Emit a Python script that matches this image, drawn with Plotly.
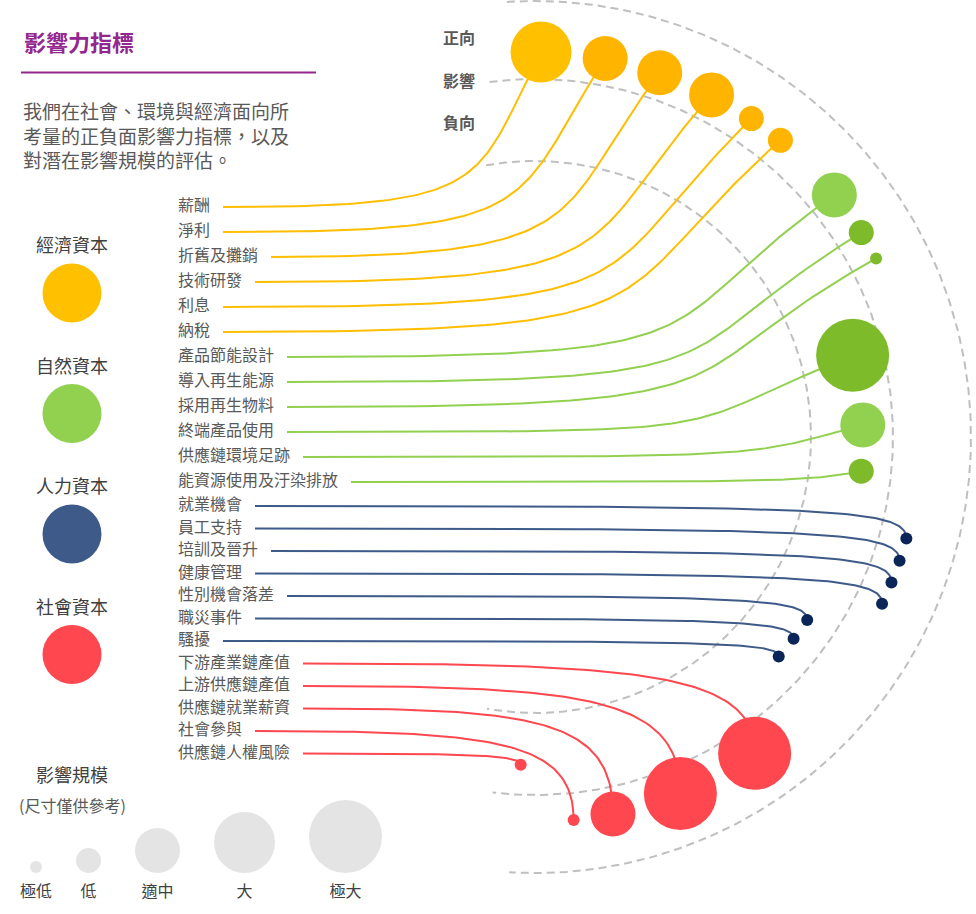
import numpy as np
import plotly.graph_objects as go

# ---------------- data ----------------
indicators = ["薪酬", "淨利", "折舊及攤銷", "技術研發", "利息", "納稅",
              "產品節能設計", "導入再生能源", "採用再生物料", "終端產品使用",
              "供應鏈環境足跡", "能資源使用及汙染排放",
              "就業機會", "員工支持", "培訓及晉升", "健康管理", "性別機會落差",
              "職災事件", "騷擾",
              "下游產業鏈產值", "上游供應鏈產值", "供應鏈就業薪資", "社會參與",
              "供應鏈人權風險"]
capital = ["經濟資本", "經濟資本", "經濟資本", "經濟資本", "經濟資本", "經濟資本",
           "自然資本", "自然資本", "自然資本", "自然資本", "自然資本", "自然資本",
           "人力資本", "人力資本", "人力資本", "人力資本", "人力資本", "人力資本", "人力資本",
           "社會資本", "社會資本", "社會資本", "社會資本", "社會資本"]
direction = ["正向", "正向", "正向", "正向", "正向", "正向",
             "正向", "正向", "正向", "負向", "負向", "負向",
             "正向", "正向", "正向", "正向", "負向", "負向", "負向",
             "正向", "正向", "正向", "正向", "負向"]
scale = ["大", "適中", "適中", "適中", "低", "低",
         "適中", "低", "極低", "極大", "適中", "低",
         "極低", "極低", "極低", "極低", "極低", "極低", "極低",
         "極大", "極大", "適中", "極低", "極低"]

capitals = ["經濟資本", "自然資本", "人力資本", "社會資本"]
scale_levels = ["極低", "低", "適中", "大", "極大"]

title = "影響力指標"
intro = ["我們在社會、環境與經濟面向所", "考量的正負面影響力指標，以及", "對潛在影響規模的評估。"]

# ---------------- style ----------------
W, H = 976, 914
FONT = "Noto Sans CJK TC"
TEXT = "#595959"
DARK = "#404040"
PURPLE = "#93278F"
cap_color = {"經濟資本": "#FFC000", "自然資本": "#92D050",
             "人力資本": "#3D5A89", "社會資本": "#FF474F"}
line_color = {"經濟資本": "#FFBE00", "自然資本": "#92D050",
              "人力資本": "#3D5A89", "社會資本": "#FF474F"}
dot_color = {"經濟資本": "#FFB400", "自然資本": "#7DBB2A",
             "人力資本": "#0B2559", "社會資本": "#FF474F"}
light_dots = {"薪酬": "#FFC000", "產品節能設計": "#92D050", "供應鏈環境足跡": "#92D050"}
size_px = dict(zip(scale_levels, [12, 25, 45, 61, 73]))

# ring geometry
cx, cy = 535, 437
arcs = [(436, 93.7, -93.4), (358, 97.3, -96.8), (276, 100.2, -100.0)]
ring_r = {"正向": 385, "負向": 328}
start_deg, end_deg = 89.1, -92.5

n = len(indicators)
d = np.array([size_px[s] for s in scale], dtype=float)
R = np.array([ring_r[v] for v in direction], dtype=float)

# pack the bubbles along the ring
steps = []
for i in range(1, n):
    st = np.degrees((d[i - 1] / 2 + d[i] / 2 + 11) / ((R[i - 1] + R[i]) / 2))
    if capital[i] != capital[i - 1] or direction[i] != direction[i - 1]:
        st += 4.5
    steps.append(st)
steps = np.array(steps) * (start_deg - end_deg) / sum(steps)
theta = start_deg - np.concatenate([[0], np.cumsum(steps)])
bx = cx + R * np.cos(np.radians(theta))
by = cy - R * np.sin(np.radians(theta))

# label rows
idx = np.arange(n)
row_y = np.where(idx < 12, 207 + 25.0 * idx, 506 + 22.5 * (idx - 12))
label_x = 178


def bezier(p0, p1, p2, p3, m=80):
    t = np.linspace(0, 1, m)[:, None]
    pts = ((1 - t) ** 3) * p0 + 3 * ((1 - t) ** 2) * t * p1 + 3 * (1 - t) * t ** 2 * p2 + t ** 3 * p3
    return pts[:, 0], pts[:, 1]


fig = go.Figure()

# dashed rings
for r, a0, a1 in arcs:
    a = np.radians(np.linspace(a0, a1, 300))
    fig.add_trace(go.Scatter(x=cx + r * np.cos(a), y=cy - r * np.sin(a), mode="lines",
                             line=dict(color="#BFBFBF", width=2, dash="8px,5px"),
                             hoverinfo="skip", showlegend=False))

# connector lines
for i in range(n):
    x0 = label_x + 16 * len(indicators[i]) + 13
    y0 = row_y[i]
    x3, y3 = bx[i], by[i]
    p0 = np.array([x0, y0])
    p3 = np.array([x3, y3])
    if capital[i] in ("經濟資本", "自然資本"):
        te = np.radians(0.55 * theta[i] + 14)
        L = 0.42 * np.hypot(x3 - x0, y3 - y0)
        if np.sin(te) > 0:
            L = min(L, (y0 - y3) / np.sin(te))
        p1 = np.array([x0 + 0.85 * (x3 - x0), y0])
        p2 = np.array([x3 - L * np.cos(te), y3 + L * np.sin(te)])
    elif capital[i] == "人力資本":
        p1 = np.array([x0 + 0.88 * (x3 - x0), y0])
        p2 = np.array([x3, y0 + 0.05 * (y3 - y0)])
    else:
        p1 = np.array([x0 + 0.75 * (x3 - x0), y0])
        p2 = np.array([x3, y0 + 0.1 * (y3 - y0)])
    lx, ly = bezier(p0, p1, p2, p3)
    fig.add_trace(go.Scatter(x=lx, y=ly, mode="lines",
                             line=dict(color=line_color[capital[i]], width=2),
                             hoverinfo="skip", showlegend=False))

# bubbles
colors = [light_dots.get(indicators[i], dot_color[capital[i]]) for i in range(n)]
fig.add_trace(go.Scatter(x=bx, y=by, mode="markers",
                         marker=dict(size=d, color=colors, opacity=1, line=dict(width=0)),
                         text=indicators, hoverinfo="text", showlegend=False))

# indicator labels
fig.add_trace(go.Scatter(x=[label_x] * n, y=row_y, mode="text", text=indicators,
                         textposition="middle right",
                         textfont=dict(family=FONT, size=16, color=TEXT),
                         hoverinfo="skip", showlegend=False))

# capital legend
leg_y = 293 + 120.5 * np.arange(len(capitals))
fig.add_trace(go.Scatter(x=[72] * 4, y=leg_y, mode="markers",
                         marker=dict(size=59, color=[cap_color[c] for c in capitals], line=dict(width=0)),
                         hoverinfo="skip", showlegend=False))
for c, yy in zip(capitals, leg_y):
    fig.add_annotation(x=72, y=yy - 49, text=c, showarrow=False,
                       font=dict(family=FONT, size=18, color=DARK))

# size legend
sd = np.array([size_px[s] for s in scale_levels], dtype=float)
sx = [36.0]
for k in range(1, len(sd)):
    sx.append(sx[-1] + sd[k - 1] / 2 + 34 + sd[k] / 2)
fig.add_trace(go.Scatter(x=sx, y=873 - sd / 2, mode="markers",
                         marker=dict(size=sd, color="#D9D9D9", line=dict(width=0)),
                         hoverinfo="skip", showlegend=False))
fig.add_trace(go.Scatter(x=sx, y=[893] * len(sx), mode="text", text=scale_levels,
                         textfont=dict(family=FONT, size=16, color=DARK),
                         hoverinfo="skip", showlegend=False))
fig.add_annotation(x=72, y=774, text="影響規模", showarrow=False,
                   font=dict(family=FONT, size=18, color=DARK))
fig.add_annotation(x=72, y=805, text="(尺寸僅供參考)", showarrow=False,
                   font=dict(family=FONT, size=16, color=TEXT))

# ring captions
for t, yy in zip(["正向", "影響", "負向"], [37, 80, 122]):
    fig.add_annotation(x=441, y=yy, text="<b>" + t + "</b>", showarrow=False, xanchor="left",
                       font=dict(family=FONT, size=16, color=TEXT))

# title block
fig.add_annotation(x=22, y=41, text="<b>" + title + "</b>", showarrow=False, xanchor="left",
                   font=dict(family=FONT, size=22, color=PURPLE))
fig.add_shape(type="line", x0=21, x1=316, y0=72.5, y1=72.5, line=dict(color=PURPLE, width=2))
fig.add_annotation(x=21, y=135, text="<br>".join(intro), showarrow=False,
                   xanchor="left", yanchor="middle", align="left",
                   font=dict(family=FONT, size=19, color=TEXT))

fig.update_layout(
    width=W, height=H,
    margin=dict(l=0, r=0, t=0, b=0),
    paper_bgcolor="white", plot_bgcolor="white",
    xaxis=dict(range=[0, W], visible=False, fixedrange=True),
    yaxis=dict(range=[H, 0], visible=False, fixedrange=True),
    showlegend=False,
)

fig.write_html("out.html", config={"displayModeBar": False},
               post_script="document.body.style.margin='0';")
